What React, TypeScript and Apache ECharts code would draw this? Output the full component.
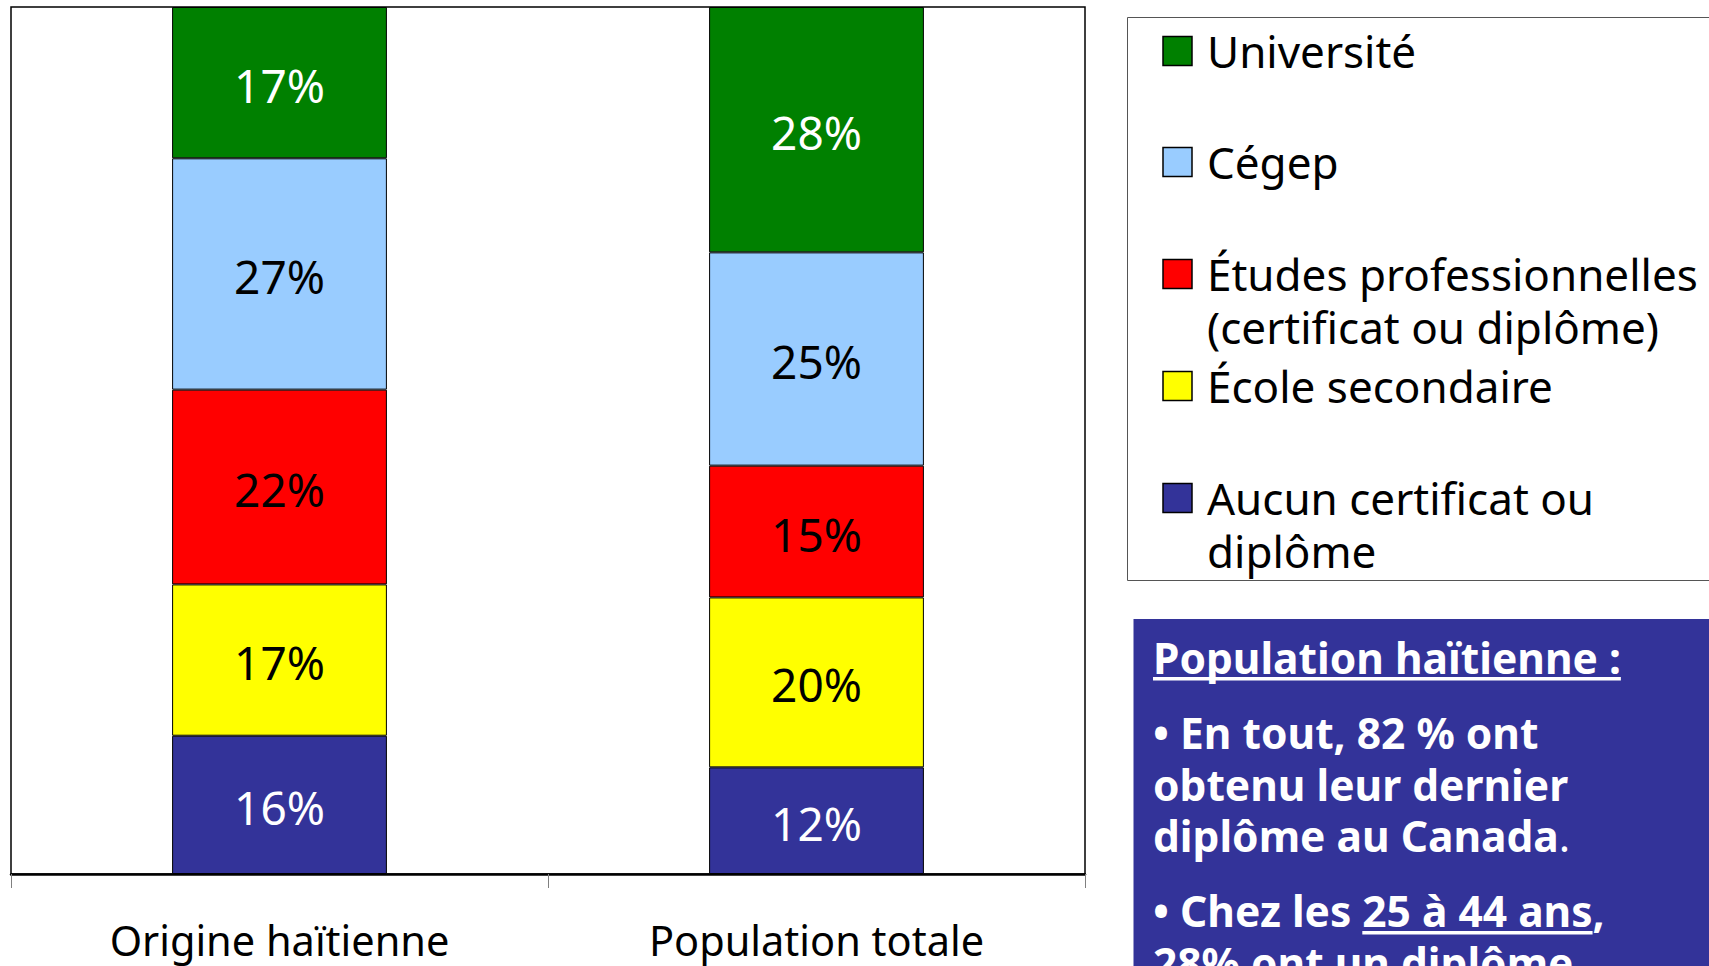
import React, { useEffect, useRef } from "react";
import * as echarts from "echarts";

// ---- data ----
const categories = ["Origine haïtienne", "Population totale"];
const seriesNames = [
  "Aucun certificat ou diplôme",
  "École secondaire",
  "Études professionnelles (certificat ou diplôme)",
  "Cégep",
  "Université",
];
// shares (%); labels show them rounded
const aucunValues = [15.9, 12.3];
const secondaireValues = [17.4, 19.6];
const professionnellesValues = [22.4, 15.2];
const cegepValues = [26.6, 24.6];
const universiteValues = [17.4, 28.3];
const seriesValues = [aucunValues, secondaireValues, professionnellesValues, cegepValues, universiteValues];

const seriesColors = ["#333399", "#FFFF00", "#FF0000", "#99CCFF", "#008000"];
const labelColors = ["#FFFFFF", "#000000", "#000000", "#000000", "#FFFFFF"];

// legend (top to bottom), index into series
const legendOrder = [4, 3, 2, 1, 0];
const legendLines = [
  ["Université"],
  ["Cégep"],
  ["Études professionnelles", "(certificat ou diplôme)"],
  ["École secondaire"],
  ["Aucun certificat ou", "diplôme"],
];

// side note text
const noteTitle = "Population haïtienne :";
type Seg = { t: string; bold: boolean; underline?: boolean };
const noteLines: Seg[][] = [
  [{ t: "• En tout, 82 % ont", bold: true }],
  [{ t: "obtenu leur dernier", bold: true }],
  [{ t: "diplôme au Canada", bold: true }, { t: ".", bold: false }],
  [
    { t: "• Chez les ", bold: true },
    { t: "25 à 44 ans", bold: true, underline: true },
    { t: ",", bold: true },
  ],
  [{ t: "28% ont un diplôme", bold: true }],
];

const FONT = '"Noto Sans", "DejaVu Sans", sans-serif';
const NOTE_SIZE = 42.5;

function measure(text: string, size: number, bold: boolean) {
  const c = document.createElement("canvas").getContext("2d")!;
  c.font = `${bold ? "bold " : ""}${size}px ${FONT}`;
  return c.measureText(text).width;
}

export default function App() {
  const ref = useRef<HTMLDivElement>(null);

  useEffect(() => {
    document.body.style.margin = "0";
    const chart = echarts.init(ref.current!, undefined, { renderer: "svg" });

    const totals = categories.map((_, i) => seriesValues.reduce((s, arr) => s + arr[i], 0));

    const series = seriesValues.map((arr, si) => ({
      name: seriesNames[si],
      type: "bar",
      stack: "total",
      barWidth: "40%",
      data: arr.map((v, i) => (v / totals[i]) * 100),
      itemStyle: { color: seriesColors[si], borderColor: "#000", borderWidth: 1 },
      label: {
        show: true,
        position: "inside",
        offset: [0, 2],
        formatter: (p: any) => `${Math.round(arr[p.dataIndex])}%`,
        fontSize: 46,
        fontFamily: FONT,
        color: labelColors[si],
      },
    }));

    const graphics: any[] = [];
    // legend box
    graphics.push({
      type: "rect",
      shape: { x: 1127.5, y: 17.5, width: 800, height: 563 },
      style: { fill: "#fff", stroke: "#555", lineWidth: 1 },
    });
    const legendCenters = [51, 162, 274, 386, 498];
    legendOrder.forEach((si, k) => {
      const cy = legendCenters[k];
      graphics.push({
        type: "rect",
        shape: { x: 1163, y: cy - 14.5, width: 29, height: 29 },
        style: { fill: seriesColors[si], stroke: "#000", lineWidth: 1.5 },
      });
      legendLines[k].forEach((line, li) => {
        graphics.push({
          type: "text",
          x: 1207,
          y: cy + li * 53,
          style: {
            text: line,
            fill: "#000",
            fontSize: 44,
            lineHeight: 40,
            fontFamily: FONT,
            align: "left",
            verticalAlign: "middle",
          },
        });
      });
    });

    // note box
    graphics.push({
      type: "rect",
      shape: { x: 1133.5, y: 619, width: 800, height: 400 },
      style: { fill: "#333399" },
    });
    const noteX = 1153;
    const titleW = measure(noteTitle, NOTE_SIZE, true);
    graphics.push({
      type: "text",
      x: noteX,
      y: 657,
      style: {
        text: noteTitle,
        fill: "#fff",
        fontSize: NOTE_SIZE,
        lineHeight: 40,
        fontWeight: "bold",
        fontFamily: FONT,
        align: "left",
        verticalAlign: "middle",
      },
    });
    graphics.push({
      type: "rect",
      shape: { x: noteX, y: 677, width: titleW, height: 3.5 },
      style: { fill: "#fff" },
    });
    const lineCenters = [732, 784, 835, 910, 962];
    const rich = {
      b: { fontSize: NOTE_SIZE, fontWeight: "bold", fontFamily: FONT, fill: "#fff", lineHeight: 40 },
      n: { fontSize: NOTE_SIZE, fontWeight: "normal", fontFamily: FONT, fill: "#fff", lineHeight: 40 },
    };
    noteLines.forEach((segs, li) => {
      let x = noteX;
      const cy = lineCenters[li];
      const text = segs.map((s) => `{${s.bold ? "b" : "n"}|${s.t}}`).join("");
      graphics.push({
        type: "text",
        x: noteX,
        y: cy,
        style: {
          text,
          rich,
          fill: "#fff",
          fontSize: NOTE_SIZE,
          lineHeight: 40,
          fontFamily: FONT,
          align: "left",
          verticalAlign: "middle",
        },
      });
      segs.forEach((s) => {
        const w = measure(s.t, NOTE_SIZE, s.bold);
        if (s.underline) {
          graphics.push({
            type: "rect",
            shape: { x, y: cy + 21, width: w, height: 3.5 },
            style: { fill: "#fff" },
          });
        }
        x += w;
      });
    });

    chart.setOption({
      animation: false,
      backgroundColor: "#fff",
      grid: {
        left: 11,
        top: 7,
        width: 1074,
        height: 867,
        show: true,
        borderColor: "#000",
        borderWidth: 1.5,
        backgroundColor: "transparent",
      },
      xAxis: {
        type: "category",
        data: categories,
        axisLine: { lineStyle: { color: "#000", width: 2.5 } },
        axisTick: { show: true, length: 14, lineStyle: { color: "#808080", width: 1 } },
        axisLabel: {
          fontSize: 41.5,
          lineHeight: 36,
          color: "#000",
          fontFamily: FONT,
          margin: 48,
          interval: 0,
        },
      },
      yAxis: { type: "value", min: 0, max: 100, show: false, splitLine: { show: false } },
      series,
      graphic: graphics,
    });

    return () => chart.dispose();
  }, []);

  return <div ref={ref} style={{ width: 1709, height: 966 }} />;
}
